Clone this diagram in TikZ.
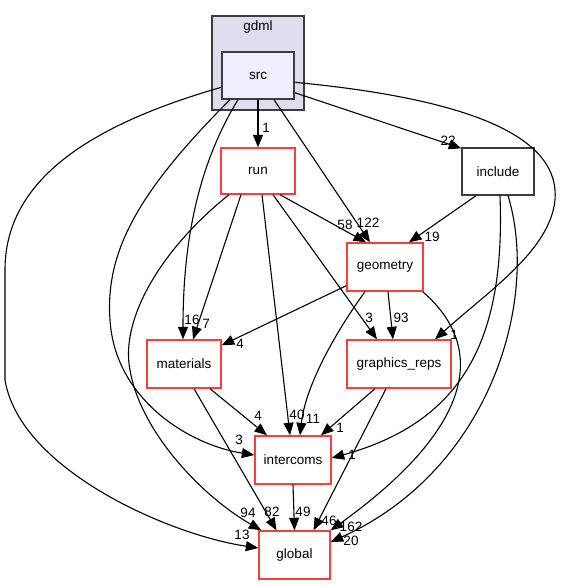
\documentclass[tikz,border=0pt]{standalone}
\usepackage{fontspec}
\setmainfont{Liberation Sans}
\usepackage{tikz}
\usetikzlibrary{arrows.meta}
\definecolor{boxred}{RGB}{255,60,60}
\definecolor{dirgray}{RGB}{60,60,60}
\definecolor{clusterfill}{RGB}{221,221,238}
\definecolor{srcfill}{RGB}{238,238,255}
\tikzset{
	dirbox/.style={draw=boxred,line width=1.4pt,fill=white,minimum height=48pt,inner sep=0pt,font=\fontsize{13.5}{15}\selectfont},
	plainbox/.style={dirbox,draw=dirgray},
	lbl/.style={inner sep=0pt,font=\fontsize{13.5}{15}\selectfont},
	dep/.style={-{Triangle[length=12.5pt,width=10pt]},line width=1.1pt}
}
\begin{document}
\begin{tikzpicture}[x=1pt,y=-1pt]
		\useasboundingbox (0,0) rectangle (567,585);
		\draw[dirgray,fill=clusterfill,line width=1.4pt] (212,16) rectangle (304,110);
		\node[lbl] (gdml) at (258,27) {gdml};
		\node[plainbox,fill=srcfill,minimum width=72pt,minimum height=47pt] (src) at (258,75.5) {src};
		\node[dirbox,minimum width=74pt,minimum height=46pt] (run) at (258,171) {run};
		\node[plainbox,minimum width=72pt,minimum height=47pt] (include) at (498,171.5) {include};
		\node[dirbox,minimum width=76pt] (geometry) at (385,267) {geometry};
		\node[dirbox,minimum width=74pt] (materials) at (184,364) {materials};
		\node[dirbox,minimum width=104pt] (graphics_reps) at (399,364) {graphics\_reps};
		\node[dirbox,minimum width=76pt] (intercoms) at (293,460) {intercoms};
		\node[dirbox,minimum width=71pt] (global) at (294.5,555) {global};
		
		\draw[dep] (src.south) to (run.north);
		\draw[dep] ([yshift=7pt]src.south east) to ([yshift=-1pt]include.north west);
		\draw[dep] ([xshift=16pt]src.south) to ([xshift=-15pt]geometry.north);
		\draw[dep] ([yshift=-31pt]src.north east) .. controls (480,100) and (560,140) .. (555,200) .. controls (550,250) and (490,290) .. ([xshift=36pt]graphics_reps.north);
		\draw[dep] ([xshift=-20pt]src.south) .. controls (195,170) and (183,250) .. ([xshift=-1pt]materials.north);
		\draw[dep] ([xshift=-28pt]src.south) .. controls (140,190) and (105,250) .. (110,320) .. controls (115,400) and (190,445) .. ([yshift=5pt]intercoms.west);
		\draw[dep] ([yshift=-36pt]src.north west) .. controls (90,125) and (5,180) .. (5,270) -- (5,380) .. controls (20,470) and (170,535) .. ([yshift=7pt]global.west);
		
		\draw[dep] ([xshift=22pt]run.south) to ([xshift=-19pt]geometry.north);
		\draw[dep] ([xshift=-17pt]run.south) to ([xshift=9pt]materials.north);
		\draw[dep] ([xshift=15pt]run.south) to ([xshift=-22pt]graphics_reps.north);
		\draw[dep] ([xshift=4pt]run.south) to ([xshift=-3pt]intercoms.north);
		\draw[dep] ([xshift=-29pt]run.south) .. controls (160,250) and (120,320) .. (130,370) .. controls (140,430) and (200,495) .. ([xshift=3pt]global.north west);
		
		\draw[dep] ([xshift=-22pt]include.south) to ([xshift=24pt]geometry.north);
		\draw[dep] ([xshift=2pt]include.south) .. controls (505,330) and (470,420) .. ([yshift=2pt]intercoms.east);
		\draw[dep] ([xshift=10pt]include.south) .. controls (540,300) and (490,470) .. ([yshift=13pt]global.east);
		
		\draw[dep] ([yshift=6pt]geometry.south west) to ([yshift=-6pt]materials.north east);
		\draw[dep] ([xshift=3pt]geometry.south) to ([xshift=-6pt]graphics_reps.north);
		\draw[dep] ([xshift=-20pt]geometry.south) .. controls (330,340) and (305,390) .. ([xshift=7pt]intercoms.north);
		\draw[dep] ([xshift=-1pt]geometry.south east) .. controls (490,350) and (470,430) .. (global.north east);
		
		\draw[dep] ([xshift=-24pt]graphics_reps.south) to ([xshift=28pt]intercoms.north);
		\draw[dep] ([xshift=-13pt]graphics_reps.south) to ([xshift=19pt]global.north);
		\draw[dep] ([xshift=26pt]materials.south) to ([xshift=-26pt]intercoms.north);
		\draw[dep] ([xshift=10pt]materials.south) to ([xshift=-18pt]global.north);
		\draw[dep] (intercoms.south) to (global.north);
		
		\node[lbl] (l-src-run) at (266,128) {1};
		\node[lbl] (l-src-include) at (448,141) {22};
		\node[lbl] (l-src-geometry) at (368,223) {122};
		\node[lbl] (l-src-graphics) at (454,335) {1};
		\node[lbl] (l-src-materials) at (192,320) {16};
		\node[lbl] (l-src-intercoms) at (239,440) {3};
		\node[lbl] (l-src-global) at (242,535) {13};
		\node[lbl] (l-run-geometry) at (345,225) {58};
		\node[lbl] (l-run-materials) at (206,324) {7};
		\node[lbl] (l-run-graphics) at (369,318) {3};
		\node[lbl] (l-run-intercoms) at (297,415) {40};
		\node[lbl] (l-run-global) at (248,513) {94};
		\node[lbl] (l-include-geometry) at (432,237) {19};
		\node[lbl] (l-include-intercoms) at (352,455) {1};
		\node[lbl] (l-include-global) at (351,541) {20};
		\node[lbl] (l-geometry-materials) at (240,344) {4};
		\node[lbl] (l-geometry-graphics) at (401,318) {93};
		\node[lbl] (l-geometry-intercoms) at (313,419) {11};
		\node[lbl] (l-geometry-global) at (351,527) {162};
		\node[lbl] (l-graphics-intercoms) at (340,428) {1};
		\node[lbl] (l-graphics-global) at (329,521) {46};
		\node[lbl] (l-materials-intercoms) at (258,416) {4};
		\node[lbl] (l-materials-global) at (272,512) {82};
		\node[lbl] (l-intercoms-global) at (303,512) {49};
		
		\end{tikzpicture}
\end{document}
